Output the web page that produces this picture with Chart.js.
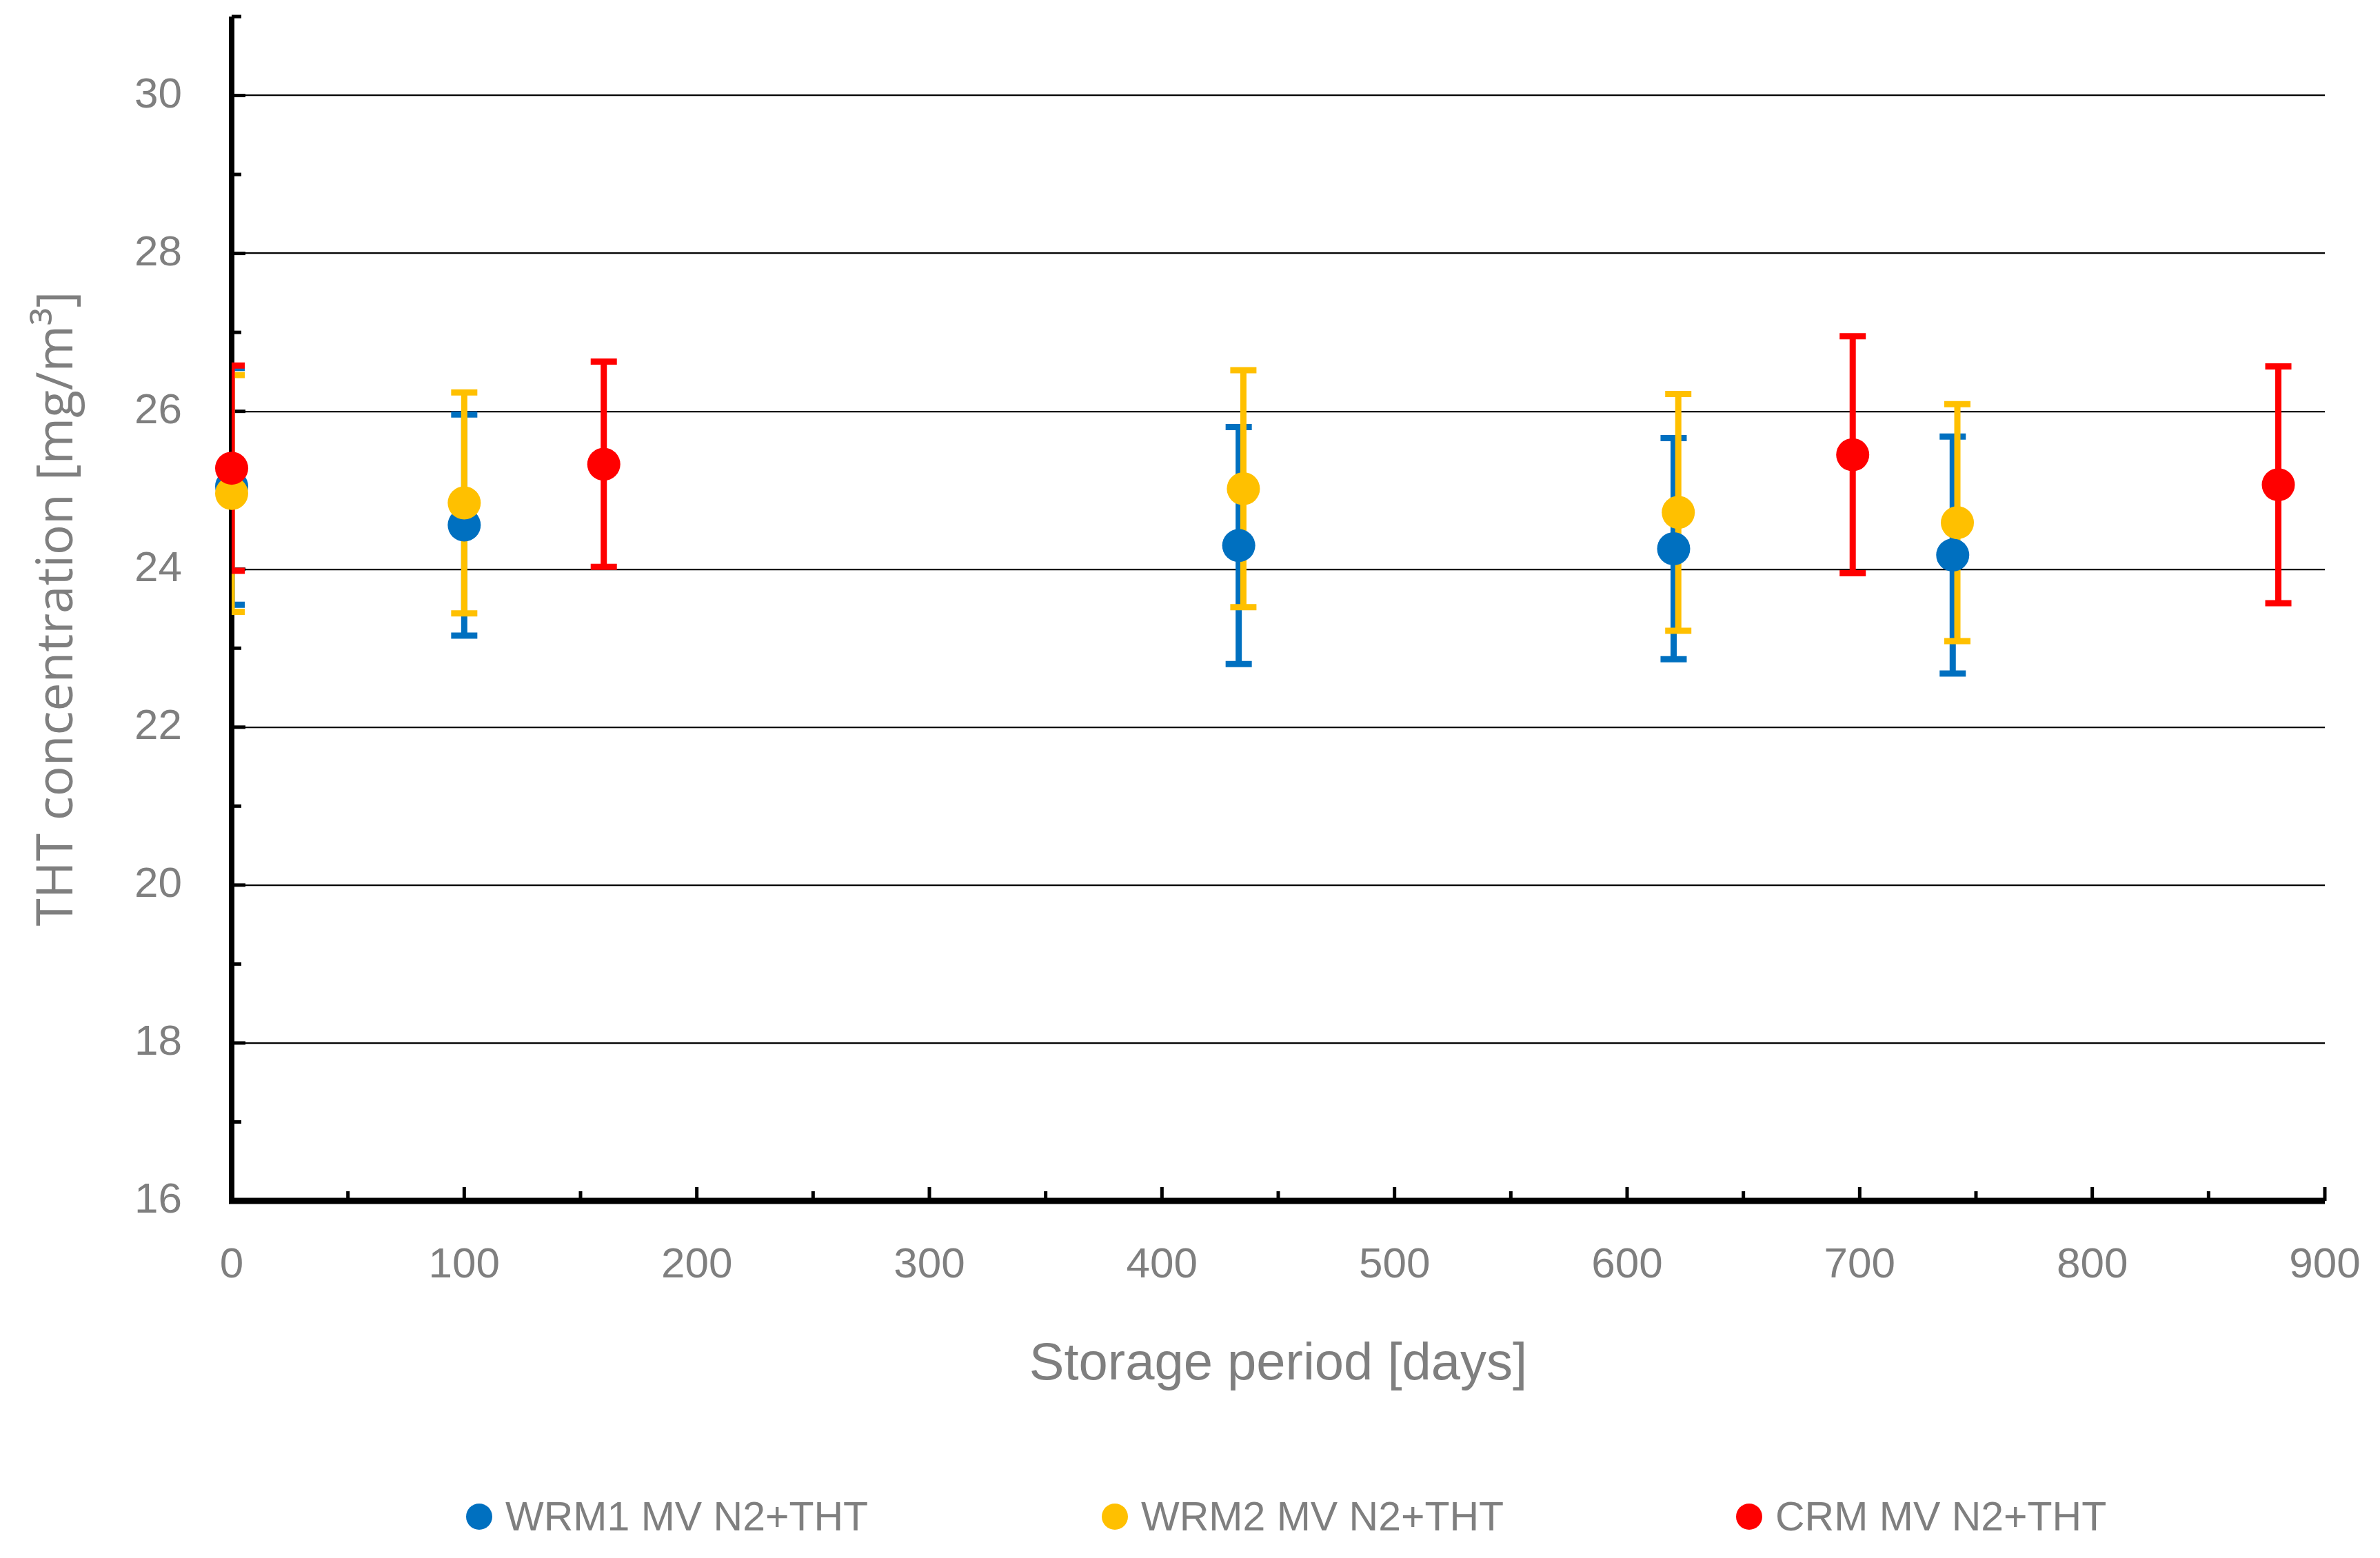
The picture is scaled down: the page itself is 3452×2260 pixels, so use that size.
<!DOCTYPE html>
<html>
<head>
<meta charset="utf-8">
<script src="https://cdn.jsdelivr.net/npm/chart.js@4.4.1/dist/chart.umd.min.js"></script>
<style>
  html, body { margin: 0; padding: 0; background: #fff; }
  #wrap { width: 3452px; height: 2260px; position: relative; overflow: hidden; }
  #chart { position: absolute; left: 0; top: 0; }
  .leg { position: absolute; top: 2164px; height: 72px; line-height: 72px; font-family: 'Liberation Sans', Arial, sans-serif;
         font-size: 59px; color: #7F7F7F; white-space: nowrap; }
  .leg i { position: absolute; width: 38px; height: 38px; border-radius: 50%; top: 17px; left: 0; }
  .leg span { position: absolute; left: 57px; }
</style>
</head>
<body>
<div id="wrap">
  <canvas id="chart" width="3452" height="2260"></canvas>
  <div id="legend"></div>
</div>
<script>
// datos
const wrm1Days = [0, 100, 433, 620, 740];
const wrm1Mean = [25.05, 24.56, 24.30, 24.26, 24.18];
const wrm1Err  = [1.5, 1.4, 1.5, 1.4, 1.5];

const wrm2Days = [0, 100, 435, 622, 742];
const wrm2Mean = [24.96, 24.84, 25.02, 24.72, 24.59];
const wrm2Err  = [1.5, 1.4, 1.5, 1.5, 1.5];

const crmDays = [0, 160, 697, 880];
const crmMean = [25.28, 25.33, 25.45, 25.07];
const crmErr  = [1.3, 1.3, 1.5, 1.5];

const seriesNames = ['WRM1 MV N2+THT', 'WRM2 MV N2+THT', 'CRM MV N2+THT'];
const seriesColors = ['#0070C0', '#FFC000', '#FF0000'];

const yTicks = [16, 18, 20, 22, 24, 26, 28, 30];
const xTicks = [0, 100, 200, 300, 400, 500, 600, 700, 800, 900];

const gray = '#7F7F7F';
const sans = "'Liberation Sans', Arial, sans-serif";

function points(days, mean, err) {
  return days.map((d, i) => ({ x: d, y: mean[i], err: err[i] }));
}

// leyenda abajo (espaciado fijo como en Excel)
const legendX = [676, 1598, 2518];
seriesNames.forEach((name, i) => {
  const d = document.createElement('div');
  d.className = 'leg';
  d.style.left = legendX[i] + 'px';
  d.innerHTML = '<i style="background:' + seriesColors[i] + '"></i><span>' + name + '</span>';
  document.getElementById('legend').appendChild(d);
});

// barras de error dibujadas con las escalas de Chart.js
const errorBars = {
  id: 'errorBars',
  beforeDatasetsDraw(chart) {
    const { ctx, chartArea, scales } = chart;
    ctx.save();
    ctx.beginPath();
    ctx.rect(chartArea.left, 0, chartArea.right - chartArea.left + 30, chartArea.bottom);
    ctx.clip();
    chart.data.datasets.forEach((ds) => {
      ctx.strokeStyle = ds.backgroundColor;
      ds.data.forEach((p) => {
        const x = scales.x.getPixelForValue(p.x);
        const yHi = scales.y.getPixelForValue(p.y + p.err);
        const yLo = scales.y.getPixelForValue(p.y - p.err);
        ctx.lineWidth = 9;
        ctx.beginPath();
        ctx.moveTo(x, yHi);
        ctx.lineTo(x, yLo);
        ctx.stroke();
        ctx.beginPath();
        ctx.moveTo(x - 19, yHi); ctx.lineTo(x + 19, yHi);
        ctx.moveTo(x - 19, yLo); ctx.lineTo(x + 19, yLo);
        ctx.stroke();
      });
    });
    ctx.restore();
  }
};

// ejes negros con marcas hacia adentro
const axesLines = {
  id: 'axesLines',
  beforeDatasetsDraw(chart) {
    const { ctx, chartArea, scales } = chart;
    const { left, right, top, bottom } = chartArea;
    ctx.save();
    ctx.strokeStyle = '#000';
    ctx.lineWidth = 5;
    for (let v = 17; v <= 31; v++) {
      const y = scales.y.getPixelForValue(v);
      const len = v % 2 === 0 ? 20 : 14;
      ctx.beginPath(); ctx.moveTo(left, y); ctx.lineTo(left + len, y); ctx.stroke();
    }
    for (let v = 50; v <= 900; v += 50) {
      const x = scales.x.getPixelForValue(v);
      const len = v % 100 === 0 ? 20 : 14;
      ctx.beginPath(); ctx.moveTo(x, bottom); ctx.lineTo(x, bottom - len); ctx.stroke();
    }
    ctx.lineWidth = 8;
    ctx.beginPath(); ctx.moveTo(left, top); ctx.lineTo(left, bottom + 4); ctx.stroke();
    ctx.lineWidth = 9;
    ctx.beginPath(); ctx.moveTo(left - 4, bottom); ctx.lineTo(right, bottom); ctx.stroke();
    ctx.restore();
  }
};

new Chart(document.getElementById('chart'), {
  type: 'scatter',
  data: {
    datasets: [
      { label: seriesNames[0], data: points(wrm1Days, wrm1Mean, wrm1Err), backgroundColor: seriesColors[0], order: 3 },
      { label: seriesNames[1], data: points(wrm2Days, wrm2Mean, wrm2Err), backgroundColor: seriesColors[1], order: 2 },
      { label: seriesNames[2], data: points(crmDays, crmMean, crmErr), backgroundColor: seriesColors[2], order: 1 }
    ].map(ds => Object.assign(ds, { pointRadius: 24, pointHoverRadius: 24, borderWidth: 0, clip: false }))
  },
  options: {
    responsive: false,
    animation: false,
    devicePixelRatio: 1,
    layout: { padding: { top: 17, right: 80, left: 0, bottom: 234 } },
    plugins: {
      tooltip: { enabled: false },
      legend: { display: false }
    },
    scales: {
      x: {
        type: 'linear',
        min: 0, max: 900,
        afterBuildTicks: (s) => { s.ticks = xTicks.map(v => ({ value: v })); },
        grid: { display: false, drawTicks: false },
        border: { display: false },
        ticks: { color: gray, padding: 57, font: { family: sans, size: 62 } },
        title: {
          display: true, text: 'Storage period [days]', color: gray,
          font: { family: sans, size: 76 }, padding: { top: 0, bottom: 0 }
        },
        afterFit: (s) => { s.height = 284; s.paddingLeft = 0; s.paddingRight = 0; }
      },
      y: {
        min: 16, max: 31,
        afterBuildTicks: (s) => { s.ticks = yTicks.map(v => ({ value: v })); },
        grid: { color: '#000', lineWidth: 2.3, drawTicks: false },
        border: { display: false },
        ticks: { color: gray, padding: 72, font: { family: sans, size: 62 } },
        title: {
          display: true, text: 'THT concentration [mg/m³]', color: gray,
          font: { family: "'Open Sans', sans-serif", size: 73 }, padding: { top: 40, bottom: 0 }
        },
        afterFit: (s) => { s.width = 336; s.paddingTop = 0; s.paddingBottom = 0; }
      }
    }
  },
  plugins: [axesLines, errorBars]
});
</script>
</body>
</html>
